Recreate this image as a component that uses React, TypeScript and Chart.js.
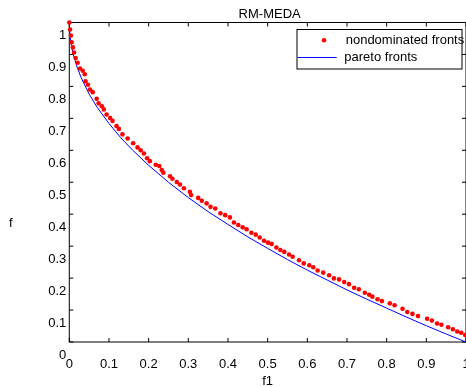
import React, { useEffect, useRef } from "react";
import { Chart, registerables } from "chart.js";
Chart.register(...registerables);

const titleText = "RM-MEDA";
const xAxisLabel = "f1";
const yAxisLabel = "f";
const seriesNames = ["nondominated fronts", "pareto fronts"];
const tickValues = [0, 0.1, 0.2, 0.3, 0.4, 0.5, 0.6, 0.7, 0.8, 0.9, 1];

// nondominated fronts (red dots)
const ndX = [
  0.0, 0.002, 0.004, 0.006, 0.009, 0.012, 0.016, 0.021, 0.027, 0.034,
  0.039, 0.041, 0.047, 0.052, 0.059, 0.069, 0.074, 0.082, 0.087, 0.094,
  0.103, 0.109, 0.119, 0.125, 0.134, 0.147, 0.161, 0.172, 0.18, 0.188,
  0.196, 0.203, 0.218, 0.227, 0.233, 0.237, 0.254, 0.26, 0.271, 0.279,
  0.289, 0.304, 0.307, 0.325, 0.334, 0.346, 0.356, 0.368, 0.381, 0.393,
  0.405, 0.415, 0.426, 0.437, 0.447, 0.459, 0.47, 0.48, 0.491, 0.501,
  0.51, 0.522, 0.532, 0.542, 0.554, 0.563, 0.579, 0.591, 0.605, 0.615,
  0.626, 0.64, 0.655, 0.667, 0.68, 0.693, 0.705, 0.718, 0.73, 0.745,
  0.756, 0.764, 0.777, 0.788, 0.808, 0.82, 0.84, 0.852, 0.865, 0.879,
  0.902, 0.914, 0.927, 0.938, 0.955, 0.967, 0.978, 0.988, 0.998,
];
const ndY = [
  1.0, 0.978, 0.959, 0.938, 0.922, 0.906, 0.889, 0.874, 0.856, 0.849,
  0.838, 0.816, 0.805, 0.79, 0.782, 0.761, 0.747, 0.738, 0.728, 0.712,
  0.701, 0.692, 0.676, 0.667, 0.65, 0.637, 0.622, 0.609, 0.6, 0.59,
  0.575, 0.566, 0.555, 0.551, 0.538, 0.53, 0.519, 0.511, 0.501, 0.493,
  0.481, 0.47, 0.46, 0.451, 0.442, 0.434, 0.423, 0.418, 0.403, 0.397,
  0.39, 0.374, 0.366, 0.359, 0.353, 0.342, 0.336, 0.327, 0.317, 0.311,
  0.307, 0.296, 0.288, 0.282, 0.274, 0.267, 0.256, 0.246, 0.24, 0.234,
  0.224, 0.217, 0.209, 0.199, 0.196, 0.188, 0.181, 0.17, 0.165, 0.154,
  0.148, 0.142, 0.134, 0.128, 0.121, 0.115, 0.104, 0.094, 0.088, 0.081,
  0.073, 0.067, 0.058, 0.054, 0.046, 0.04, 0.033, 0.029, 0.022,
];

// pareto fronts (blue line)
const pfX = [
  0, 0.002, 0.005, 0.01, 0.02, 0.03, 0.05, 0.07, 0.1, 0.13, 0.16, 0.2,
  0.25, 0.3, 0.35, 0.4, 0.45, 0.5, 0.55, 0.6, 0.65, 0.7, 0.75, 0.8, 0.85,
  0.9, 0.95, 1.0,
];
const pfY = [
  1.0, 0.955, 0.929, 0.9, 0.859, 0.827, 0.776, 0.735, 0.684, 0.639, 0.6,
  0.553, 0.5, 0.452, 0.408, 0.368, 0.329, 0.293, 0.258, 0.225, 0.194,
  0.163, 0.134, 0.106, 0.078, 0.051, 0.025, 0.0,
];

const FONT = '"Liberation Sans", Arial, sans-serif';

const decorPlugin = {
  id: "decor",
  beforeDatasetsDraw(chart: any) {
    const { ctx, chartArea, scales } = chart;
    const { left, right, top, bottom } = chartArea;
    const x = scales.x;
    const y = scales.y;
    ctx.save();
    ctx.strokeStyle = "#000";
    ctx.lineWidth = 1;
    ctx.beginPath();
    ctx.moveTo(left, top);
    ctx.lineTo(right, top);
    ctx.lineTo(right, bottom);
    ctx.lineTo(left, bottom);
    ctx.closePath();
    const tl = 4;
    tickValues.forEach((v) => {
      const px = x.getPixelForValue(v);
      ctx.moveTo(px, bottom);
      ctx.lineTo(px, bottom - tl);
      ctx.moveTo(px, top);
      ctx.lineTo(px, top + tl);
      const py = y.getPixelForValue(v);
      ctx.moveTo(left, py);
      ctx.lineTo(left + tl, py);
      ctx.moveTo(right, py);
      ctx.lineTo(right - tl, py);
    });
    ctx.stroke();

    ctx.fillStyle = "#000";
    ctx.font = `13px ${FONT}`;
    ctx.textAlign = "center";
    ctx.textBaseline = "middle";
    ctx.fillText(titleText, (left + right) / 2 + 2, 14.7);
    ctx.fillText(xAxisLabel, (left + right) / 2, 381.5);
    ctx.fillText(yAxisLabel, 10.7, 223);
    ctx.restore();
  },
  afterDatasetsDraw(chart: any) {
    const { ctx } = chart;
    const ds = chart.data.datasets;
    ctx.save();
    ctx.fillStyle = "#fff";
    ctx.fillRect(297, 29.5, 165, 39.5);
    ctx.strokeStyle = "#000";
    ctx.lineWidth = 1;
    ctx.strokeRect(297, 29.5, 165, 39.5);
    ctx.fillStyle = "#ff0000";
    ctx.beginPath();
    ctx.arc(324, 40.3, 2.3, 0, Math.PI * 2);
    ctx.fill();
    ctx.strokeStyle = "#0000ff";
    ctx.beginPath();
    ctx.moveTo(297.7, 57.5);
    ctx.lineTo(336.7, 57.5);
    ctx.stroke();
    ctx.fillStyle = "#000";
    ctx.font = `13px ${FONT}`;
    ctx.textAlign = "left";
    ctx.textBaseline = "middle";
    ctx.fillText(ds[0].label, 345.7, 40.5);
    ctx.fillText(ds[1].label, 344.3, 57);
    ctx.restore();
  },
};

export default function App() {
  const ref = useRef<HTMLCanvasElement | null>(null);
  useEffect(() => {
    const canvas = ref.current;
    if (!canvas) return;
    const chart = new Chart(canvas, {
      type: "scatter",
      data: {
        datasets: [
          {
            label: seriesNames[0],
            data: ndX.map((v, i) => ({ x: v, y: ndY[i] })),
            backgroundColor: "#ff0000",
            borderColor: "#ff0000",
            pointRadius: 2.3,
            pointBorderWidth: 0,
            showLine: false,
            clip: false as any,
            order: 0,
          },
          {
            label: seriesNames[1],
            data: pfX.map((v, i) => ({ x: v, y: pfY[i] })),
            borderColor: "#0000ff",
            backgroundColor: "#0000ff",
            borderWidth: 1,
            pointRadius: 0,
            showLine: true,
            tension: 0,
            order: 1,
          },
        ],
      },
      options: {
        animation: false,
        responsive: false,
        events: [],
        layout: {
          autoPadding: false,
          padding: { top: 22.5, left: 0, right: -0.4, bottom: 0 },
        },
        plugins: {
          legend: { display: false },
          title: { display: false },
          tooltip: { enabled: false },
        },
        scales: {
          x: {
            type: "linear",
            min: 0,
            max: 1,
            grid: { display: false, drawTicks: false },
            border: { display: false },
            ticks: {
              stepSize: 0.1,
              autoSkip: false,
              maxRotation: 0,
              padding: 15,
              color: "#000",
              font: { family: FONT, size: 13 },
              callback: (v: any) => String(Number(Number(v).toFixed(1))),
            },
            afterFit: (s: any) => {
              s.height = 45;
              s.paddingLeft = 0;
              s.paddingRight = 0;
            },
          },
          y: {
            type: "linear",
            min: 0,
            max: 1,
            grid: { display: false, drawTicks: false },
            border: { display: false },
            ticks: {
              stepSize: 0.1,
              autoSkip: false,
              padding: 3,
              labelOffset: 13,
              color: "#000",
              font: { family: FONT, size: 13 },
              callback: (v: any) => String(Number(Number(v).toFixed(1))),
            },
            afterFit: (s: any) => {
              s.width = 69.3;
              s.paddingTop = 0;
              s.paddingBottom = 0;
            },
          },
        },
      },
      plugins: [decorPlugin],
    });
    return () => chart.destroy();
  }, []);
  return (
    <div
      style={{
        position: "fixed",
        left: 0,
        top: 0,
        width: 466,
        height: 387,
        background: "#fff",
      }}
    >
      <canvas ref={ref} width={466} height={387} style={{ display: "block" }} />
    </div>
  );
}
